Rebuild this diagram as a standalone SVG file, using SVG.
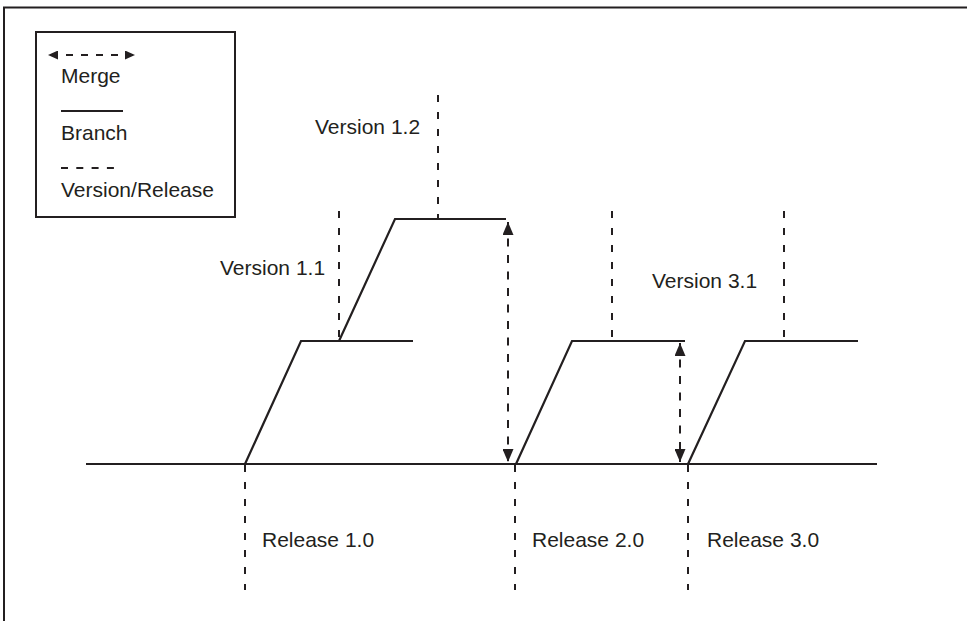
<svg xmlns="http://www.w3.org/2000/svg" width="967" height="621" viewBox="0 0 967 621">
<style>
  text { font-family: "Liberation Sans", Arial, sans-serif; font-size: 21px; fill: #231f20; }
  .solid { stroke: #231f20; stroke-width: 2.2; fill: none; }
  .ver { stroke: #231f20; stroke-width: 2; fill: none; stroke-dasharray: 7 10; }
  .merge { stroke: #231f20; stroke-width: 2; fill: none; stroke-dasharray: 8 8.5; marker-start: url(#ah); marker-end: url(#ah); }
  .frame { stroke: #231f20; stroke-width: 2; fill: none; }
</style>
<defs>
  <marker id="ah" markerUnits="userSpaceOnUse" viewBox="0 0 13 11" markerWidth="13" markerHeight="11" refX="13" refY="5.5" orient="auto-start-reverse">
    <path d="M0,0 L13,5.5 L0,11 z" fill="#231f20"/>
  </marker>
  <marker id="ahs" markerUnits="userSpaceOnUse" viewBox="0 0 10 9" markerWidth="10" markerHeight="9" refX="10" refY="4.5" orient="auto-start-reverse">
    <path d="M0,0 L10,4.5 L0,9 z" fill="#231f20"/>
  </marker>
</defs>
<rect width="967" height="621" fill="#ffffff"/>
<path class="frame" d="M4,621 V7.5 H967"/>

<g id="legend">
  <rect x="36" y="32" width="199" height="185" class="frame"/>
  <line x1="48" y1="55" x2="135" y2="55" stroke="#231f20" stroke-width="2" stroke-dasharray="7 8" stroke-dashoffset="-3" marker-start="url(#ahs)" marker-end="url(#ahs)"/>
  <text x="61" y="83">Merge</text>
  <line x1="61" y1="111" x2="123" y2="111" class="solid"/>
  <text x="61" y="140">Branch</text>
  <line x1="61" y1="168" x2="120" y2="168" stroke="#231f20" stroke-width="2" stroke-dasharray="7 8.3"/>
  <text x="61" y="197">Version/Release</text>
</g>

<g id="trunk">
  <line x1="86" y1="464" x2="877" y2="464" class="solid"/>
</g>

<g id="release1">
  <line x1="245" y1="465" x2="245" y2="590" class="ver"/>
  <text x="262" y="547">Release 1.0</text>
</g>
<g id="release2">
  <line x1="515" y1="465" x2="515" y2="590" class="ver"/>
  <text x="532" y="547">Release 2.0</text>
</g>
<g id="release3">
  <line x1="688" y1="465" x2="688" y2="590" class="ver"/>
  <text x="707" y="547">Release 3.0</text>
</g>

<g id="branch1">
  <path class="solid" d="M245,464 L301,341 H413"/>
</g>
<g id="version11">
  <line x1="339" y1="211" x2="339" y2="340" class="ver"/>
  <text x="220" y="275">Version 1.1</text>
</g>
<g id="branch12">
  <path class="solid" d="M339,341 L395,219 H506"/>
</g>
<g id="version12">
  <line x1="438" y1="95" x2="438" y2="218" class="ver"/>
  <text x="315" y="134">Version 1.2</text>
</g>

<g id="branch2">
  <path class="solid" d="M516,464 L572,341 H685"/>
</g>
<g id="version2">
  <line x1="612" y1="211" x2="612" y2="340" class="ver"/>
</g>

<g id="branch3">
  <path class="solid" d="M688,464 L745,341 H858"/>
</g>
<g id="version31">
  <line x1="784" y1="211" x2="784" y2="340" class="ver"/>
  <text x="652" y="288">Version 3.1</text>
</g>

<g id="connectors">
  <line x1="508" y1="222" x2="508" y2="462" class="merge"/>
  <line x1="680" y1="343" x2="680" y2="462" class="merge"/>
</g>
</svg>
